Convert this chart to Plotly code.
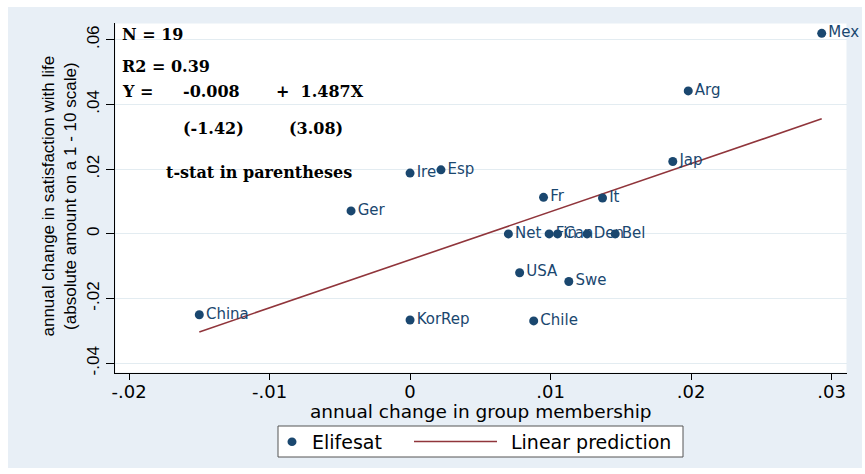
import plotly.graph_objects as go

# --- data -------------------------------------------------------------
countries = ["Mex", "Arg", "Jap", "Ire", "Esp", "Fr", "It", "Ger", "Net",
             "Fin", "Can", "Den", "Bel", "USA", "Swe", "KorRep", "Chile", "China"]
group_change = [0.0293, 0.0198, 0.0187, 0.0000, 0.0022, 0.0095, 0.0137, -0.0042, 0.0070,
                0.0099, 0.0105, 0.0126, 0.0146, 0.0078, 0.0113, 0.0000, 0.0088, -0.0150]
lifesat_change = [0.0620, 0.0442, 0.0224, 0.0188, 0.0198, 0.0113, 0.0111, 0.0071, 0.0,
                  0.0, 0.0, 0.0, 0.0, -0.0120, -0.0147, -0.0266, -0.0269, -0.0250]

intercept = -0.008
slope = 1.487

x_ticks = [-0.02, -0.01, 0.0, 0.01, 0.02, 0.03]
x_tick_labels = ["-.02", "-.01", "0", ".01", ".02", ".03"]
y_ticks = [-0.04, -0.02, 0.0, 0.02, 0.04, 0.06]
y_tick_labels = ["-.04", "-.02", "0", ".02", ".04", ".06"]

# --- styling ----------------------------------------------------------
W, H = 865, 474
ML, MR, MT, MB = 115, 18, 23, 101
PW, PH = W - ML - MR, H - MT - MB
NAVY = "#1a476f"
MAROON = "#90353b"
REGION = "#e8eff6"
SANS_WIDE = "DejaVu Sans"
SANS = "Liberation Sans, Arial"
SERIF_B = "DejaVu Serif"


def fx(p):
    """pixel column -> paper x"""
    return (p - ML) / PW


def fy(p):
    """pixel row -> paper y"""
    return (MT + PH - p) / PH


fig = go.Figure()

# fitted line over the observed range of x
x_lo, x_hi = min(group_change), max(group_change)
fig.add_trace(go.Scatter(
    x=[x_lo, x_hi],
    y=[intercept + slope * x_lo, intercept + slope * x_hi],
    mode="lines", line=dict(color=MAROON, width=1.6),
    name="Linear prediction", showlegend=False, hoverinfo="skip"))

fig.add_trace(go.Scatter(
    x=group_change, y=lifesat_change, mode="markers+text",
    text=countries, textposition="middle right",
    textfont=dict(family=SANS_WIDE, size=15, color=NAVY),
    marker=dict(color=NAVY, size=9),
    cliponaxis=False, name="Elifesat", showlegend=False))

# graph region (light frame around the white plot area)
strips = [
    (8, 7, 862, 23.5),
    (8, 372.5, 862, 468),
    (8, 22.5, 115.5, 373.5),
    (846.5, 22.5, 862, 373.5),
]
shapes = []
for x0, y0, x1, y1 in strips:
    shapes.append(dict(type="rect", xref="paper", yref="paper",
                       x0=fx(x0), x1=fx(x1), y0=fy(y1), y1=fy(y0),
                       fillcolor=REGION, line=dict(width=0), layer="below"))

# legend box
shapes.append(dict(type="rect", xref="paper", yref="paper",
                   x0=fx(278), x1=fx(683), y0=fy(457), y1=fy(426),
                   fillcolor="white", line=dict(color="#555555", width=1)))
shapes.append(dict(type="circle", xref="paper", yref="paper",
                   x0=fx(287.5), x1=fx(296.5), y0=fy(446), y1=fy(437.5),
                   fillcolor=NAVY, line=dict(width=0)))
shapes.append(dict(type="line", xref="paper", yref="paper",
                   x0=fx(414), x1=fx(497), y0=fy(441.5), y1=fy(441.5),
                   line=dict(color=MAROON, width=1.6)))

annotations = []


def note(text, px, py, size=16, family=SERIF_B, color="black", anchor="left", bold=True, angle=0):
    annotations.append(dict(
        text=f"<b>{text}</b>" if bold else text,
        xref="paper", yref="paper", x=fx(px), y=fy(py),
        xanchor=anchor, yanchor="middle", showarrow=False, textangle=angle,
        font=dict(family=family, size=size, color=color)))


# regression summary
note("N = 19", 120, 34)
note("R2 = 0.39", 120, 66)
note("Y =", 120, 91)
note(f"{intercept:.3f}", 181, 91)
note(f"+  {slope:.3f}X", 274, 91)
note("(-1.42)", 181, 128)
note("(3.08)", 287, 128)
note("t-stat in parentheses", 164, 172)

# axis titles
note("annual change in satisfaction with life<br>(absolute amount on a 1 - 10 scale)",
     58.5, 196, size=17, family=SANS, anchor="center", bold=False, angle=-90)
note("annual change in group membership", 481, 411, size=18.5, family=SANS_WIDE,
     anchor="center", bold=False)

# legend labels
note("Elifesat", 310, 441.5, size=19, family=SANS_WIDE, bold=False)
note("Linear prediction", 509, 441.5, size=19, family=SANS_WIDE, bold=False)

fig.update_layout(
    width=W, height=H,
    margin=dict(l=ML, r=MR, t=MT, b=MB, pad=0),
    paper_bgcolor="white", plot_bgcolor="white",
    shapes=shapes, annotations=annotations,
    showlegend=False,
)

fig.update_xaxes(
    range=[-0.0210, 0.0311], tickvals=x_ticks, ticktext=x_tick_labels,
    showgrid=False, zeroline=False,
    showline=True, linecolor="black", linewidth=1,
    ticks="outside", ticklen=6, tickcolor="black", ticklabelstandoff=-4,
    tickfont=dict(family=SANS_WIDE, size=18, color="black"),
)
fig.update_yaxes(
    range=[-0.0430, 0.0652], tickvals=y_ticks, ticktext=y_tick_labels,
    showgrid=True, gridcolor="#e3ecf1", gridwidth=1, zeroline=False,
    showline=True, linecolor="black", linewidth=1,
    ticks="outside", ticklen=8, tickcolor="black", tickangle=-90,
    tickfont=dict(family=SANS, size=17, color="black"),
)

fig.write_html("out.html")
